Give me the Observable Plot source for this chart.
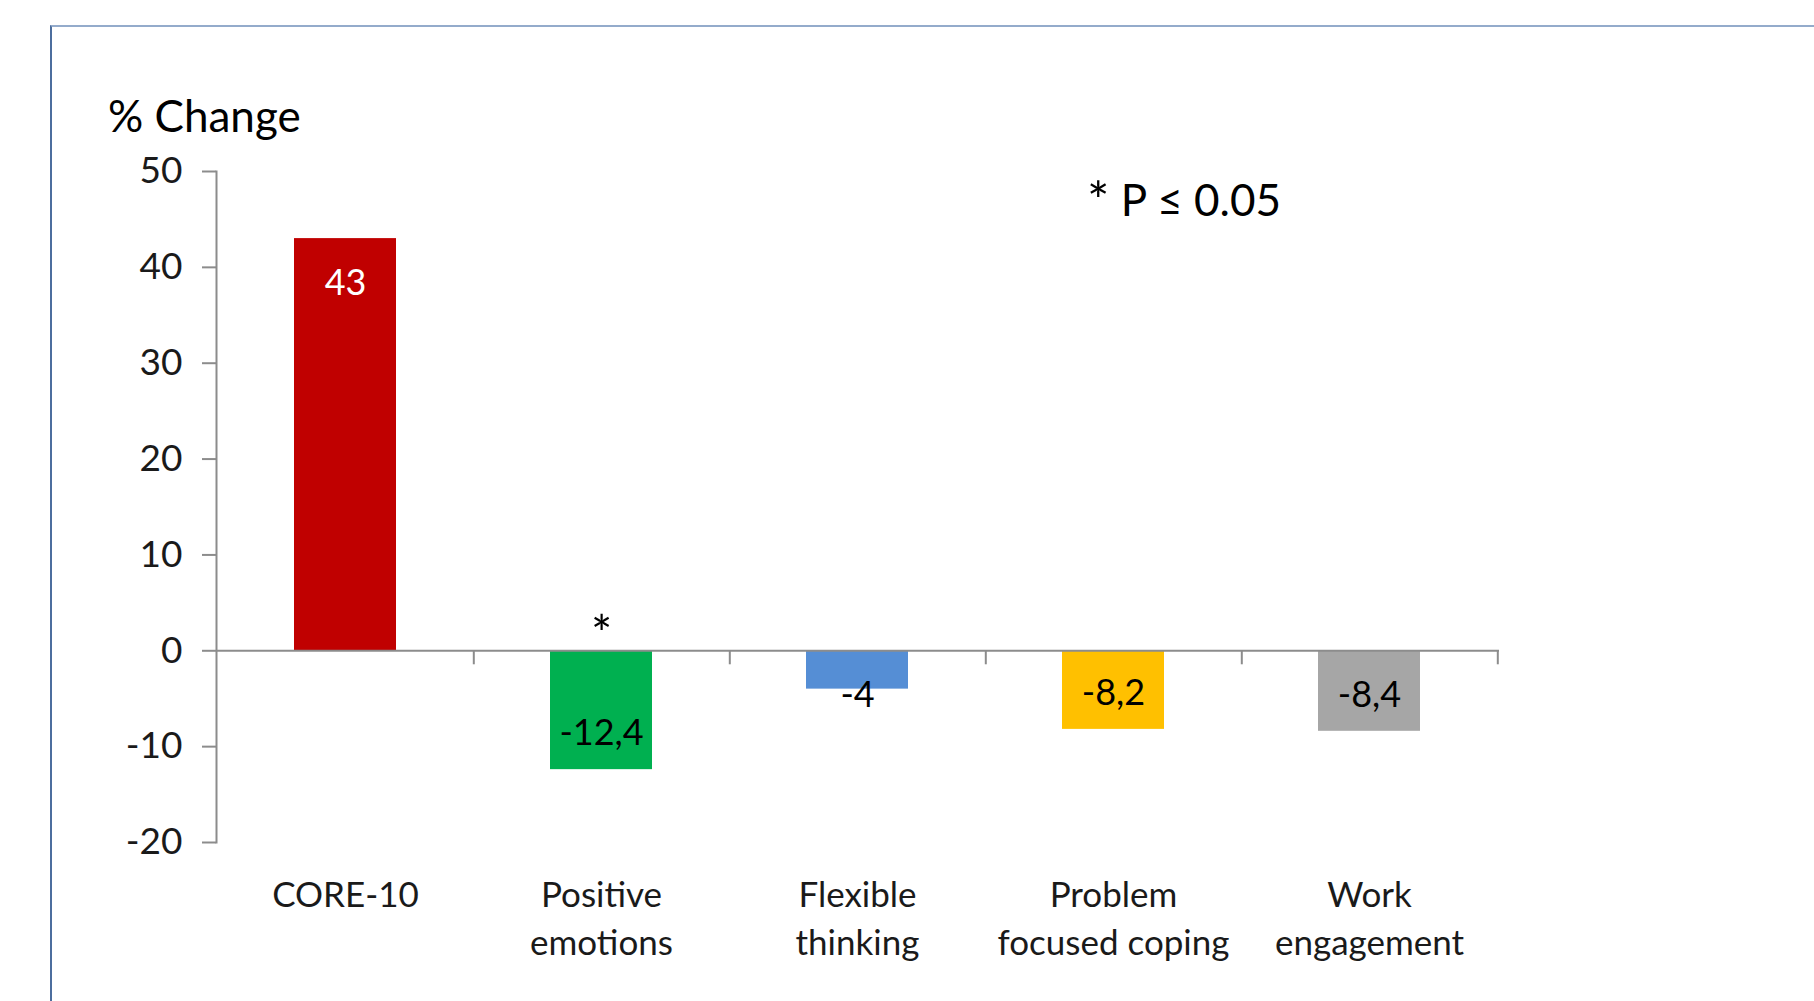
<!DOCTYPE html>
<html>
<head>
<meta charset="utf-8">
<script src="https://cdn.jsdelivr.net/npm/d3@7"></script>
<script src="https://cdn.jsdelivr.net/npm/@observablehq/plot@0.6"></script>
<style>
  html, body { margin: 0; padding: 0; background: #ffffff; }
  body { width: 1814px; height: 1001px; position: relative; overflow: hidden; font-family: Lato, "Open Sans", sans-serif; }
  #border { position: absolute; left: 50px; top: 25px; width: 2000px; height: 2000px;
            border-left: 2px solid #4C6E9E; border-top: 2px solid #94ABCB; box-sizing: border-box; }
  #chart { position: absolute; left: 0; top: 0; }
  .note { position: absolute; font-family: Lato, sans-serif; font-size: 44px; line-height: 1; color: #000; white-space: nowrap; }
  #ylabel { left: 108px; top: 93px; }
  #pnote { left: 1087px; top: 177px; }
  #pnote .ast { font-size: 1.2em; line-height: 0; position: relative; top: 0.08em; }
</style>
</head>
<body>
<div id="border"></div>
<div id="chart"></div>
<div class="note" id="ylabel">% Change</div>
<div class="note" id="pnote"><span class="ast">*</span> P ≤ 0.05</div>
<script>
// ---- data ----
const categories = ["CORE-10", "Positive\nemotions", "Flexible\nthinking", "Problem\nfocused coping", "Work\nengagement"];
const values = [43, -12.4, -4, -8.2, -8.4];
const valueLabels = ["43", "-12,4", "-4", "-8,2", "-8,4"];
const barColors = ["#C00000", "#00B050", "#558ED5", "#FFC000", "#A6A6A6"];
const labelColors = ["#FFFFFF", "#000000", "#000000", "#000000", "#000000"];
const significance = ["", "*", "", "", ""];
const yTicks = [-20, -10, 0, 10, 20, 30, 40, 50];
const yDomain = [-20, 50];

// ---- layout ----
const W = 1814, H = 1001;
const mL = 216, mR = 315, mT = 171, mB = 159;
const step = (W - mL - mR) / categories.length;
const pxPerUnit = (H - mT - mB) / (yDomain[1] - yDomain[0]);
const tickLenUnits = 14 / pxPerUnit;
const axisGray = "#8C8C8C";
const textColor = "#1A1A1A";
const fs = 36;

const data = categories.map((c, i) => ({
  cat: c, value: values[i], label: valueLabels[i], fill: barColors[i],
  labelFill: labelColors[i], sig: significance[i]
}));

// label placement groups (inside end; too-short bars get the label just past the end)
const fits = d => Math.abs(d.value) * pxPerUnit >= 70;
const posLabels = data.filter(d => d.value > 0 && fits(d));
const negLabels = data.filter(d => d.value < 0 && fits(d));
const shortLabels = data.filter(d => !fits(d));

const labelOpts = { x: "cat", y: "value", text: "label", fill: "labelFill", fontSize: fs, lineAnchor: "middle" };

const chart = Plot.plot({
  width: W,
  height: H,
  marginLeft: mL, marginRight: mR, marginTop: mT, marginBottom: mB,
  style: { fontFamily: "Lato, sans-serif", background: "transparent", color: textColor },
  x: { type: "band", domain: categories, paddingInner: 0.6, paddingOuter: 0.3, axis: null },
  y: { domain: yDomain, axis: null },
  marks: [
    Plot.barY(data, { x: "cat", y: "value", fill: "fill" }),
    Plot.ruleY([0], { stroke: axisGray, strokeWidth: 2 }),
    Plot.ruleX(categories, { x: d => d, dx: step / 2, y1: 0, y2: -tickLenUnits, stroke: axisGray, strokeWidth: 2 }),
    Plot.frame({ anchor: "left", stroke: axisGray, strokeWidth: 2 }),
    Plot.axisY({
      ticks: yTicks, tickSize: 14, tickPadding: 20, tickFormat: d => String(d),
      fontSize: 37, stroke: axisGray, strokeWidth: 2, fill: textColor, label: null
    }),
    Plot.axisX({
      anchor: "bottom", tickSize: 0, tickPadding: 31, fontSize: 35, lineHeight: 1.36,
      fill: textColor, label: null
    }),
    Plot.text(posLabels, { ...labelOpts, dy: 45 }),
    Plot.text(negLabels, { ...labelOpts, dy: -36 }),
    Plot.text(shortLabels, { ...labelOpts, dy: 6 }),
    Plot.text(data.filter(d => d.sig), {
      x: "cat", y: () => 0, text: "sig", fill: "#000", fontSize: 50,
      lineAnchor: "middle", dy: -15
    })
  ]
});
document.getElementById("chart").appendChild(chart);
</script>
</body>
</html>
